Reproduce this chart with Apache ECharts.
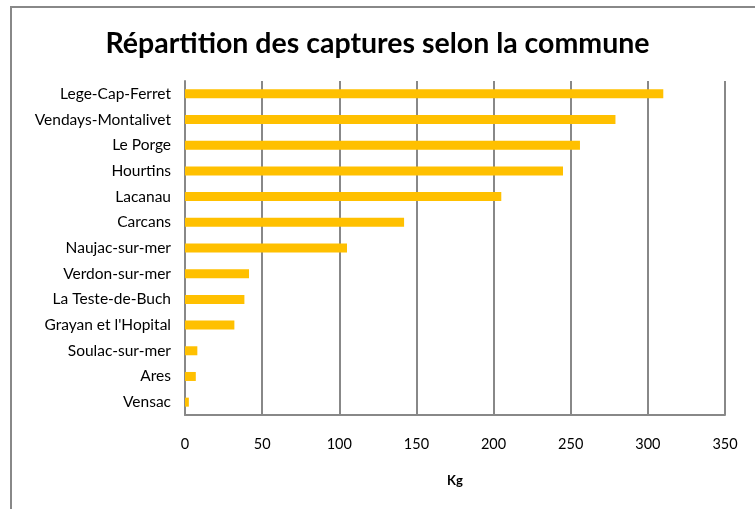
<!DOCTYPE html>
<html>
<head>
<meta charset="utf-8">
<script src="https://cdn.jsdelivr.net/npm/echarts@6/dist/echarts.min.js"></script>
<style>
html, body { margin: 0; padding: 0; background: #fff; }
#main { width: 755px; height: 509px; }
</style>
</head>
<body>
<div id="main"></div>
<script>
var communes = ['Lege-Cap-Ferret', 'Vendays-Montalivet', 'Le Porge', 'Hourtins', 'Lacanau', 'Carcans',
    'Naujac-sur-mer', 'Verdon-sur-mer', 'La Teste-de-Buch', "Grayan et l'Hopital", 'Soulac-sur-mer', 'Ares', 'Vensac'];
var captures = [310, 279, 256, 245, 205, 142, 105, 41.5, 38.5, 32, 8, 7, 2.5];
var xTicks = [0, 50, 100, 150, 200, 250, 300, 350];

var myChart = echarts.init(document.getElementById('main'));
var font = 'Lato, "Open Sans", sans-serif';

option = {
    animation: false,
    textStyle: { fontFamily: font },
    title: {
        text: 'Répartition des captures selon la commune',
        left: 'center',
        top: 24,
        textStyle: { fontFamily: font, fontSize: 28.5, fontWeight: 'bold', color: '#000' }
    },
    graphic: [{
        type: 'rect',
        shape: { x: 11, y: 7, width: 800, height: 600 },
        style: { fill: 'none', stroke: '#888', lineWidth: 2 },
        silent: true
    }],
    grid: { left: 185, right: 30, top: 81, bottom: 94 },
    xAxis: {
        type: 'value',
        min: xTicks[0],
        max: xTicks[xTicks.length - 1],
        interval: 50,
        name: 'Kg',
        nameLocation: 'middle',
        nameGap: 59,
        nameTextStyle: { fontFamily: font, fontSize: 13, fontWeight: 'bold', color: '#000' },
        axisLine: { show: true, lineStyle: { color: '#888', width: 2 } },
        axisTick: { show: false },
        axisLabel: { margin: 22, fontSize: 14.5, color: '#000', fontFamily: font },
        splitLine: { show: true, lineStyle: { color: '#888', width: 2 } }
    },
    yAxis: {
        type: 'category',
        data: communes,
        inverse: true,
        axisLine: { show: true, lineStyle: { color: '#888', width: 2 } },
        axisTick: { show: false },
        axisLabel: { margin: 14, fontSize: 15.5, color: '#000', fontFamily: font }
    },
    series: [{
        type: 'bar',
        data: captures,
        barWidth: 9,
        itemStyle: { color: '#FFC000' }
    }]
};
myChart.setOption(option);
</script>
</body>
</html>
